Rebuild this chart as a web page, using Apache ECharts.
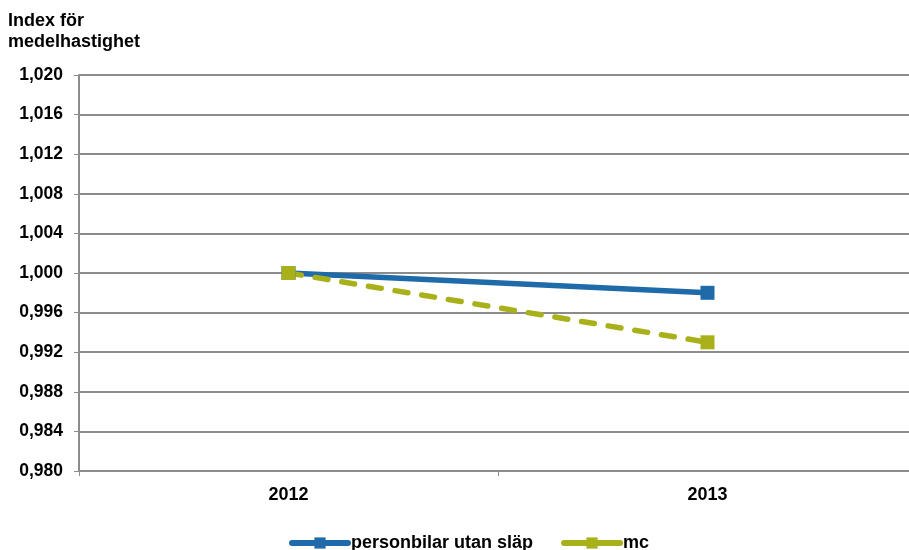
<!DOCTYPE html>
<html>
<head>
<meta charset="utf-8">
<script src="https://cdn.jsdelivr.net/npm/echarts@6/dist/echarts.min.js"></script>
<style>
html,body{margin:0;padding:0;background:#fff;}
#chart{width:909px;height:550px;}
</style>
</head>
<body>
<div id="chart"></div>
<script>
// Years on the category axis
const years = ['2012', '2013'];
// Speed index per vehicle type
const personbilar = [1.000, 0.998];
const mc = [1.000, 0.993];
// Value axis range and step
const yMin = 0.980;
const yMax = 1.020;
const yStep = 0.004;

const font = 'Arial, "Liberation Sans", sans-serif';
const fmt = v => v.toFixed(3).replace('.', ',');
const blue = '#1f6aa8';
const olive = '#a9b11a';

const chart = echarts.init(document.getElementById('chart'));
chart.setOption({
  animation: false,
  backgroundColor: '#ffffff',
  title: {
    text: 'Index för\nmedelhastighet',
    left: 3, top: 6,
    textStyle: { fontFamily: font, fontSize: 18, fontWeight: 'bold', color: '#000', lineHeight: 21 }
  },
  grid: { left: 79, top: 75, width: 838, bottom: 79, containLabel: false, outerBoundsMode: 'none' },
  legend: {
    bottom: -7, left: 284,
    itemWidth: 56, itemHeight: 14, itemGap: 28,
    lineStyle: { type: 'solid', width: 6, cap: 'round' },
    textStyle: { fontFamily: font, fontSize: 18, fontWeight: 'bold', color: '#000', padding: [0, 0, 0, -2] },
    data: ['personbilar utan släp', 'mc']
  },
  xAxis: {
    type: 'category',
    data: years,
    boundaryGap: true,
    axisLine: { lineStyle: { color: '#8c8c8c', width: 2 } },
    axisTick: { show: true, length: 5, lineStyle: { color: '#8c8c8c', width: 1 } },
    axisLabel: { fontFamily: font, fontSize: 18, fontWeight: 'bold', color: '#000', margin: 15 }
  },
  yAxis: {
    type: 'value',
    min: yMin, max: yMax, interval: yStep,
    axisLine: { show: true, lineStyle: { color: '#8c8c8c', width: 2 } },
    axisTick: { show: true, length: 5, lineStyle: { color: '#8c8c8c', width: 1 } },
    splitLine: { lineStyle: { color: '#8c8c8c', width: 2 } },
    axisLabel: { fontFamily: font, fontSize: 17.5, fontWeight: 'bold', color: '#000', margin: 16, formatter: fmt }
  },
  series: [
    {
      name: 'personbilar utan släp',
      type: 'line',
      data: personbilar,
      color: blue,
      symbol: 'rect', symbolSize: 14,
      lineStyle: { width: 5.5, color: blue, cap: 'round' },
      itemStyle: { color: blue }
    },
    {
      name: 'mc',
      type: 'line',
      data: mc,
      color: olive,
      symbol: 'rect', symbolSize: 14,
      lineStyle: { width: 5.5, color: olive, type: [13, 14], cap: 'round' },
      itemStyle: { color: olive }
    }
  ]
});
</script>
</body>
</html>
